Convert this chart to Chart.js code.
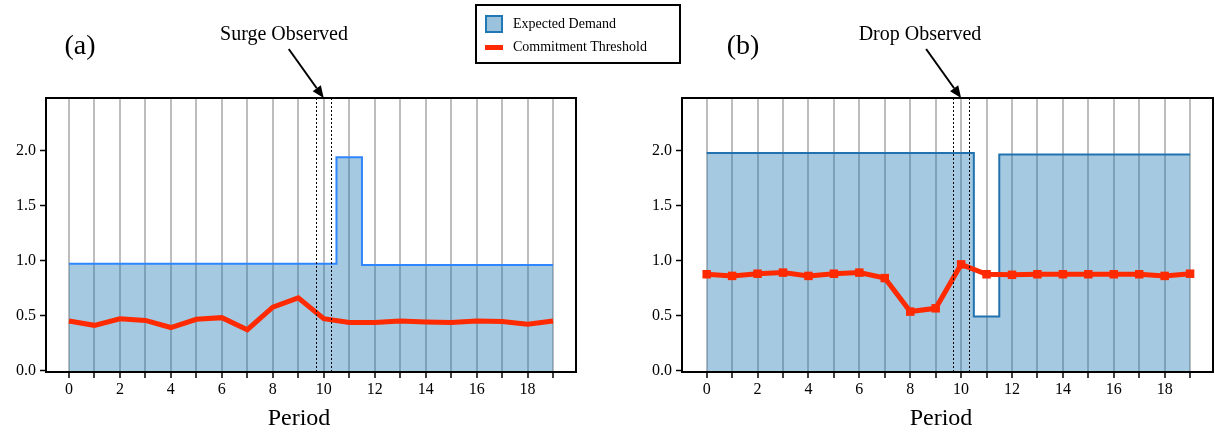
<!DOCTYPE html>
<html>
<head>
<meta charset="utf-8">
<script src="https://cdn.jsdelivr.net/npm/chart.js@4.4.0/dist/chart.umd.min.js"></script>
<style>
  body { margin: 0; background: #fff; width: 1215px; height: 434px; overflow: hidden; position: relative;
         font-family: 'Liberation Serif', 'Times New Roman', serif; color: #000; }
  .panel { position: absolute; top: 0; height: 434px; }
  #wrapA { left: 0; width: 600px; }
  #wrapB { left: 630px; width: 600px; }
  .lbl { position: absolute; white-space: nowrap; transform: translate(-50%, -50%); line-height: 1; }
  .tag { font-size: 28px; }
  .note { font-size: 20px; }
  .axt { font-size: 24px; }
  #legend { position: absolute; left: 475px; top: 4px; width: 202px; height: 56px; border: 2px solid #000; background: #fff; }
  .item { position: absolute; left: 8px; font-size: 14px; line-height: 1; white-space: nowrap; }
  .item span { position: absolute; left: 28px; top: 50%; transform: translateY(-50%); }
  .patch { position: absolute; left: 0; width: 14px; height: 14px; border: 2px solid #1f77b4; background: rgba(31,119,180,0.45); }
  .redline { position: absolute; left: 0; width: 18px; height: 5px; background: #ff2a00; }
</style>
</head>
<body>
<div id="wrapA" class="panel"><canvas id="chartA" width="600" height="434"></canvas></div>
<div id="wrapB" class="panel"><canvas id="chartB" width="600" height="434"></canvas></div>

<div class="lbl tag" style="left:80px; top:45px;">(a)</div>
<div class="lbl tag" style="left:743px; top:45px;">(b)</div>
<div class="lbl note" style="left:284px; top:33px;">Surge Observed</div>
<div class="lbl note" style="left:920px; top:33px;">Drop Observed</div>
<div class="lbl axt" style="left:299px; top:417px;">Period</div>
<div class="lbl axt" style="left:941px; top:417px;">Period</div>

<div id="legend">
  <div class="item" style="top:9px; height:18px; width:190px;"><div class="patch"></div><span>Expected Demand</span></div>
  <div class="item" style="top:32px; height:18px; width:190px;"><div class="redline" style="top:7px;"></div><span>Commitment Threshold</span></div>
</div>

<script>
// periods on the x axis
const periods = [0, 1, 2, 3, 4, 5, 6, 7, 8, 9, 10, 11, 12, 13, 14, 15, 16, 17, 18, 19];
const yTicks = [0, 0.5, 1.0, 1.5, 2.0];

// panel (a): demand surge
const demandA = [0.97, 0.97, 0.97, 0.97, 0.97, 0.97, 0.97, 0.97, 0.97, 0.97, 0.97,
                 1.94, 0.96, 0.96, 0.96, 0.96, 0.96, 0.96, 0.96, 0.96];
const thresholdA = [0.45, 0.41, 0.47, 0.455, 0.39, 0.465, 0.48, 0.37, 0.575, 0.66,
                    0.47, 0.435, 0.435, 0.45, 0.44, 0.435, 0.45, 0.445, 0.42, 0.45];

// panel (b): demand drop
const demandB = [1.98, 1.98, 1.98, 1.98, 1.98, 1.98, 1.98, 1.98, 1.98, 1.98, 1.98,
                 0.49, 1.965, 1.965, 1.965, 1.965, 1.965, 1.965, 1.965, 1.965];
const thresholdB = [0.875, 0.86, 0.88, 0.89, 0.86, 0.88, 0.89, 0.84, 0.535, 0.565,
                    0.965, 0.875, 0.87, 0.875, 0.875, 0.875, 0.875, 0.875, 0.86, 0.88];

// when the change was observed
const observedAt = 10;
const observedWindow = [9.7, 10.3];

const serif = "'Liberation Serif', 'Times New Roman', serif";

const frame = {
  id: 'frame',
  afterDatasetsDraw(chart) {
    const { ctx, chartArea: a, scales: { x } } = chart;
    ctx.save();
    ctx.strokeStyle = '#000';
    ctx.lineWidth = 1;
    ctx.setLineDash([2, 2]);
    observedWindow.forEach(v => {
      const px = Math.round(x.getPixelForValue(v)) + 0.5;
      ctx.beginPath();
      ctx.moveTo(px, a.top);
      ctx.lineTo(px, a.bottom);
      ctx.stroke();
    });
    ctx.setLineDash([]);
    ctx.lineWidth = 2;
    ctx.strokeRect(a.left, a.top, a.right - a.left, a.bottom - a.top);

    // arrow from the note down to the observation
    const tx = x.getPixelForValue(observedAt), ty = a.top;
    const sx = tx - 35, sy = ty - 49;
    const ang = Math.atan2(ty - sy, tx - sx);
    const hl = 12, hw = 5;
    const bx = tx - hl * Math.cos(ang), by = ty - hl * Math.sin(ang);
    ctx.lineWidth = 2;
    ctx.beginPath();
    ctx.moveTo(sx, sy);
    ctx.lineTo(bx, by);
    ctx.stroke();
    ctx.fillStyle = '#000';
    ctx.beginPath();
    ctx.moveTo(tx, ty);
    ctx.lineTo(bx + hw * Math.sin(ang), by - hw * Math.cos(ang));
    ctx.lineTo(bx - hw * Math.sin(ang), by + hw * Math.cos(ang));
    ctx.closePath();
    ctx.fill();
    ctx.restore();
  }
};

function makeChart(id, demand, threshold, opts) {
  const ctx = document.getElementById(id).getContext('2d');
  return new Chart(ctx, {
    type: 'line',
    data: {
      datasets: [
        {
          label: 'Commitment Threshold',
          data: periods.map((p, i) => ({ x: p, y: threshold[i] })),
          borderColor: '#ff2a00',
          backgroundColor: '#ff2a00',
          borderWidth: 5,
          pointRadius: opts.markers ? 6 : 0,
          pointBorderWidth: 0,
          pointStyle: 'rect',
          fill: false,
          order: 0
        },
        {
          label: 'Expected Demand',
          data: periods.map((p, i) => ({ x: p, y: demand[i] })),
          stepped: 'middle',
          borderColor: opts.lineColor,
          backgroundColor: 'rgba(31,119,180,0.4)',
          borderWidth: 2,
          pointRadius: 0,
          fill: 'start',
          order: 1
        }
      ]
    },
    options: {
      responsive: false,
      animation: false,
      devicePixelRatio: 1,
      layout: { padding: { top: 98, right: opts.right, bottom: 0, left: 0 } },
      plugins: { legend: { display: false }, tooltip: { enabled: false } },
      scales: {
        x: {
          type: 'linear',
          min: opts.xmin,
          max: 19.9,
          afterBuildTicks: s => { s.ticks = periods.map(v => ({ value: v })); },
          afterFit: s => { s.height = 434 - 372; },
          border: { display: false },
          grid: { color: '#bdbdbd', lineWidth: 2, tickLength: 6, tickColor: '#000', tickWidth: 1.5 },
          ticks: {
            autoSkip: false, maxRotation: 0, color: '#000', padding: 2,
            font: { family: serif, size: 16 },
            callback: v => (v % 2 === 0 ? String(v) : '')
          }
        },
        y: {
          min: -0.015,
          max: 2.48,
          afterBuildTicks: s => { s.ticks = yTicks.map(v => ({ value: v })); },
          afterFit: s => { s.width = opts.yw; },
          border: { display: false },
          grid: { drawOnChartArea: false, tickLength: 6, tickColor: '#000', tickWidth: 1.5 },
          ticks: {
            color: '#000', padding: 4,
            font: { family: serif, size: 16 },
            callback: v => Number(v).toFixed(1)
          }
        }
      }
    },
    plugins: [frame]
  });
}

makeChart('chartA', demandA, thresholdA, { xmin: -0.9, right: 24, yw: 46, markers: false, lineColor: '#2f86ff' });
makeChart('chartB', demandB, thresholdB, { xmin: -0.97, right: 17, yw: 52, markers: true, lineColor: '#2272b0' });
</script>
</body>
</html>
